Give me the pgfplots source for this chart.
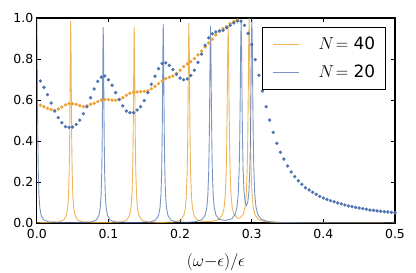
\documentclass[border=0pt]{standalone}
\usepackage{pgfplots}
\pgfplotsset{compat=1.18}
\usepackage{fontspec}
\setmainfont{DejaVu Sans}
\definecolor{cor}{HTML}{EBA22E}
\definecolor{cbl}{HTML}{4C72B0}
\begin{document}
\begin{tikzpicture}
\path[use as bounding box] (-36.8bp,-50bp) rectangle (379.2bp,223bp);
\begin{axis}[
  scale only axis, width=358.2bp, height=205bp,
  at={(0,0)}, anchor=south west,
  xmin=0, xmax=0.5, ymin=0, ymax=1,
  axis line style={line width=1.25pt},
  tick align=inside, major tick length=4bp,
  tick style={black, line width=0.8pt},
  xtick={0,0.1,0.2,0.3,0.4,0.5},
  ytick={0,0.2,0.4,0.6,0.8,1.0},
  ticklabel style={font=\fontsize{12.5}{15}\selectfont},
  xticklabel style={yshift=-3bp, /pgf/number format/.cd, fixed, fixed zerofill, precision=1, assume math mode=true},
  yticklabel style={/pgf/number format/.cd, fixed, fixed zerofill, precision=1, assume math mode=true},
  xlabel={$(\omega{-}\epsilon)/\epsilon$},
  x label style={font=\fontsize{17}{20}\selectfont, at={(axis description cs:0.5,-0.19)}, anchor=center},
  legend style={at={(1,1)}, anchor=north east, xshift=-9.3bp, yshift=-8.7bp,
    draw=black, line width=1.2pt, font=\fontsize{17}{20}\selectfont,
    nodes={inner sep=0pt}, column sep=19bp, row sep=14bp, inner xsep=10bp, inner ysep=10bp},
  legend cell align=left,
  legend image code/.code={\draw[#1, line width=0.9pt] (0bp,0bp) -- (26bp,0bp);},
  clip=true,
]
\addplot[color=cor, line width=0.9pt, opacity=0.8, no markers] coordinates {
(0,0.0007) (0.0305,0.0050) (0.0377,0.0152) (0.0413,0.0379) (0.0431,0.0744) (0.0443,0.136) (0.04526,0.253) (0.04586,0.404) (0.04634,0.601) (0.04682,0.849) (0.0473,0.985) (0.04778,0.849) (0.04826,0.601) (0.04874,0.404) (0.04934,0.253) (0.0503,0.136) (0.0515,0.0744) (0.0533,0.0379) (0.0569,0.0152) (0.0641,0.0050) (0.0917,0.0016)
(0.1178,0.0049) (0.1256,0.0148) (0.1295,0.0369) (0.13145,0.0723) (0.13275,0.132) (0.13379,0.246) (0.13444,0.393) (0.13496,0.584) (0.13548,0.826) (0.136,0.958) (0.13652,0.826) (0.13704,0.584) (0.13756,0.393) (0.13821,0.246) (0.13925,0.132) (0.14055,0.0723) (0.1425,0.0369) (0.1464,0.0148) (0.1542,0.0049) (0.174,0.0025)
(0.1927,0.0050) (0.2011,0.0150) (0.2053,0.0375) (0.20742,0.0736) (0.20872,0.135) (0.20992,0.251) (0.21062,0.400) (0.21118,0.595) (0.21174,0.840) (0.2123,0.975) (0.21286,0.840) (0.21342,0.595) (0.21398,0.400) (0.21468,0.251) (0.2158,0.136) (0.2172,0.0746) (0.2193,0.0385) (0.2235,0.0165) (0.2319,0.0070)
(0.2447,0.0077) (0.2543,0.0174) (0.2591,0.040) (0.2615,0.0753) (0.2631,0.135) (0.26438,0.249) (0.26518,0.396) (0.26582,0.587) (0.26646,0.829) (0.2671,0.962) (0.26774,0.830) (0.26838,0.588) (0.26902,0.397) (0.26982,0.250) (0.2711,0.137) (0.2727,0.0775) (0.2751,0.0425) (0.2799,0.0241) (0.2818,0.0231) (0.2836,0.0243) (0.2884,0.0439) (0.2908,0.0798) (0.2924,0.142) (0.29368,0.261) (0.29448,0.414) (0.29512,0.613) (0.29576,0.865) (0.2964,1.0) (0.29704,0.865) (0.29768,0.613) (0.29832,0.413) (0.29912,0.260) (0.3004,0.141) (0.302,0.078) (0.3044,0.041) (0.3092,0.017) (0.3188,0.006) (0.34,0.0016) (0.5,0.0001)
};
\addlegendentry{$N\!=$ 40}
\addplot[color=cbl, line width=0.9pt, opacity=0.75, no markers] coordinates {
(0,1.0) (0.00048,0.862) (0.00096,0.610) (0.00144,0.410) (0.00204,0.257) (0.003,0.138) (0.0042,0.0755) (0.006,0.0385) (0.0096,0.0154) (0.0168,0.0051) (0.046,0.0013)
(0.0759,0.0049) (0.0831,0.0147) (0.0867,0.0368) (0.0885,0.0722) (0.0897,0.132) (0.09066,0.246) (0.09126,0.392) (0.09174,0.583) (0.09222,0.824) (0.0927,0.956) (0.09318,0.824) (0.09366,0.583) (0.09414,0.392) (0.09474,0.246) (0.0957,0.132) (0.0969,0.0722) (0.0987,0.0368) (0.1023,0.0147) (0.1095,0.0049) (0.134,0.0018)
(0.1583,0.0050) (0.1661,0.0150) (0.1700,0.0374) (0.17195,0.0734) (0.17325,0.134) (0.17429,0.250) (0.17494,0.399) (0.17546,0.593) (0.17598,0.838) (0.1765,0.972) (0.17702,0.838) (0.17754,0.593) (0.17806,0.399) (0.17871,0.250) (0.17975,0.134) (0.18105,0.0734) (0.1830,0.0374) (0.1869,0.0150) (0.1947,0.0052) (0.2095,0.0036)
(0.2215,0.006) (0.2305,0.016) (0.2350,0.038) (0.23725,0.074) (0.23875,0.134) (0.23995,0.249) (0.2407,0.396) (0.2413,0.588) (0.2419,0.830) (0.2425,0.962) (0.2431,0.830) (0.2437,0.588) (0.2443,0.396) (0.24505,0.249) (0.24625,0.134) (0.24775,0.0745) (0.2500,0.039) (0.2545,0.017) (0.2635,0.0126)
(0.2724,0.0208) (0.2772,0.0442) (0.2796,0.0813) (0.2812,0.143) (0.28248,0.260) (0.28328,0.410) (0.28392,0.606) (0.28456,0.852) (0.2852,0.988) (0.28584,0.854) (0.28648,0.609) (0.28712,0.416) (0.28792,0.268) (0.2892,0.156) (0.2908,0.102) (0.2927,0.0859) (0.2946,0.103) (0.2962,0.158) (0.29748,0.273) (0.29828,0.424) (0.29892,0.623) (0.29956,0.874) (0.3002,1.0) (0.30084,0.872) (0.30148,0.619) (0.30212,0.419) (0.30292,0.265) (0.3042,0.145) (0.3058,0.0814) (0.3082,0.0432) (0.3130,0.0187) (0.3226,0.0069) (0.3412,0.0023) (0.40,0.0004) (0.5,0.0001)
};
\addlegendentry{$N\!=$ 20}
\addplot[only marks, mark=*, mark size=1.5bp, color=cor, mark options={draw=none, fill=cor}, forget plot] coordinates {
(0.005,0.574) (0.010,0.567) (0.015,0.559) (0.020,0.553) (0.025,0.548) (0.030,0.556) (0.035,0.566) (0.040,0.576) (0.045,0.582) (0.050,0.582)
(0.055,0.579) (0.060,0.572) (0.065,0.567) (0.070,0.571) (0.075,0.579) (0.080,0.584) (0.085,0.592) (0.090,0.600) (0.095,0.602) (0.100,0.602)
(0.105,0.599) (0.110,0.599) (0.115,0.603) (0.120,0.611) (0.125,0.623) (0.130,0.633) (0.135,0.637) (0.140,0.639) (0.145,0.641) (0.150,0.642)
(0.155,0.645) (0.160,0.655) (0.165,0.667) (0.170,0.680) (0.175,0.693) (0.180,0.704) (0.185,0.711) (0.190,0.717) (0.195,0.730) (0.200,0.745)
(0.205,0.763) (0.210,0.776) (0.215,0.787) (0.220,0.802) (0.225,0.820) (0.230,0.839) (0.235,0.859) (0.240,0.878) (0.245,0.896) (0.250,0.917)
(0.255,0.935) (0.260,0.948) (0.265,0.958) (0.270,0.972) (0.275,0.983) (0.280,0.990)
};
\addplot[only marks, mark=*, mark size=1.5bp, color=cbl, mark options={draw=none, fill=cbl}, forget plot] coordinates {
(0.005,0.693) (0.010,0.662) (0.015,0.626) (0.020,0.585) (0.025,0.546) (0.030,0.514) (0.035,0.489) (0.040,0.470) (0.045,0.467) (0.050,0.468)
(0.055,0.481) (0.060,0.502) (0.065,0.533) (0.070,0.567) (0.075,0.611) (0.080,0.654) (0.085,0.691) (0.090,0.712) (0.095,0.717) (0.100,0.699)
(0.105,0.672) (0.110,0.636) (0.115,0.602) (0.120,0.571) (0.125,0.546) (0.130,0.538) (0.135,0.538) (0.140,0.551) (0.145,0.567) (0.150,0.597)
(0.155,0.636) (0.160,0.677) (0.165,0.716) (0.170,0.753) (0.175,0.778) (0.180,0.781) (0.185,0.769) (0.190,0.748) (0.195,0.725) (0.200,0.707)
(0.205,0.699) (0.210,0.703) (0.215,0.719) (0.220,0.745) (0.225,0.784) (0.230,0.824) (0.235,0.867) (0.240,0.903) (0.245,0.923) (0.250,0.932)
(0.255,0.937) (0.260,0.940) (0.265,0.953) (0.270,0.964) (0.275,0.976) (0.280,0.985) (0.285,0.985) (0.290,0.964) (0.295,0.925) (0.300,0.870)
(0.305,0.797) (0.310,0.721) (0.315,0.644) (0.320,0.567) (0.325,0.502) (0.330,0.442) (0.335,0.389) (0.340,0.345) (0.345,0.312) (0.350,0.278)
(0.355,0.249) (0.360,0.226) (0.365,0.206) (0.370,0.189) (0.375,0.172) (0.380,0.161) (0.385,0.150) (0.390,0.140) (0.395,0.130) (0.400,0.122)
(0.405,0.115) (0.410,0.109) (0.415,0.104) (0.420,0.098) (0.425,0.093) (0.430,0.088) (0.435,0.083) (0.440,0.080) (0.445,0.076) (0.450,0.073)
(0.455,0.070) (0.460,0.067) (0.465,0.063) (0.470,0.062) (0.475,0.059) (0.480,0.057) (0.485,0.055) (0.490,0.054) (0.495,0.052) (0.500,0.050)
};
\end{axis}
\end{tikzpicture}
\end{document}
